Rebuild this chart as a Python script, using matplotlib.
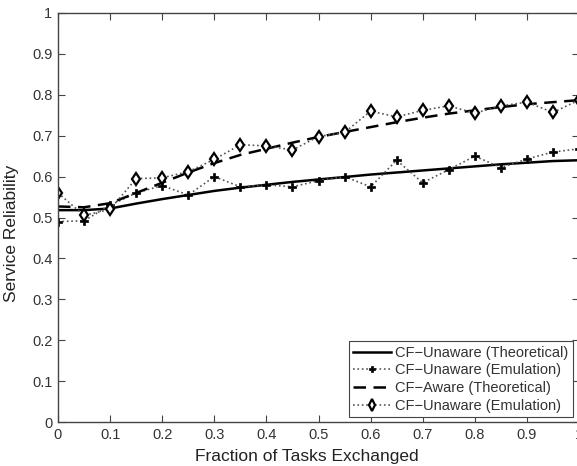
import numpy as np
import matplotlib
matplotlib.use('Agg')
import matplotlib.pyplot as plt

# fraction of tasks exchanged
frac = np.round(np.arange(0, 1.0001, 0.05), 2)

unaware_theory = [0.518, 0.518, 0.522, 0.534, 0.545, 0.555, 0.565, 0.573, 0.580, 0.587, 0.593,
                  0.599, 0.605, 0.610, 0.615, 0.620, 0.625, 0.630, 0.634, 0.638, 0.640]
unaware_emul = [0.490, 0.492, 0.530, 0.560, 0.578, 0.555, 0.600, 0.575, 0.580, 0.575, 0.590,
                0.600, 0.575, 0.640, 0.585, 0.617, 0.650, 0.622, 0.643, 0.660, 0.668]
aware_theory = [0.527, 0.525, 0.535, 0.560, 0.585, 0.610, 0.633, 0.653, 0.668, 0.683, 0.697,
                0.709, 0.721, 0.733, 0.744, 0.754, 0.762, 0.770, 0.777, 0.782, 0.787]
aware_emul = [0.560, 0.505, 0.520, 0.595, 0.597, 0.612, 0.642, 0.678, 0.675, 0.665, 0.698,
              0.708, 0.760, 0.746, 0.762, 0.773, 0.755, 0.773, 0.782, 0.757, 0.787]

labels = ['CF\u2212Unaware (Theoretical)', 'CF\u2212Unaware (Emulation)',
          'CF\u2212Aware (Theoretical)', 'CF\u2212Unaware (Emulation)']

plt.rcParams['font.family'] = ['Liberation Sans', 'DejaVu Sans']

W, H = 577, 466
fig = plt.figure(figsize=(W / 100, H / 100), dpi=100)
ax = fig.add_axes([58 / W, (H - 422) / H, 521 / W, 409 / H])

ax.plot(frac, unaware_theory, '-', color='black', lw=1.8, label=labels[0])
ax.plot(frac, unaware_emul, ':', color='#555555', lw=1.2, marker='P', ms=5.5,
        mfc='black', mec='black', mew=0.5, label=labels[1])
ax.plot(frac, aware_theory, '--', color='black', lw=1.8, dashes=(5, 3), label=labels[2])
ax.plot(frac, aware_emul, ':', color='#555555', lw=1.2, marker='d', ms=6.5,
        mfc='white', mec='black', mew=1.6, label=labels[3])

ax.set_xlim(0, 1)
ax.set_ylim(0, 1)
ax.set_xticks(np.arange(0, 1.01, 0.1))
ax.set_yticks(np.arange(0, 1.01, 0.1))
ax.set_xticklabels(['0', '0.1', '0.2', '0.3', '0.4', '0.5', '0.6', '0.7', '0.8', '0.9', '1'])
ax.set_yticklabels(['0', '0.1', '0.2', '0.3', '0.4', '0.5', '0.6', '0.7', '0.8', '0.9', '1'])
ax.tick_params(direction='in', top=True, right=True, length=5, width=0.8,
               color='#444444', labelsize=10.5, labelcolor='#333333', pad=4)
for s in ax.spines.values():
    s.set_color('#444444')
    s.set_linewidth(1.0)

ax.set_xlabel('Fraction of Tasks Exchanged', fontsize=12.5, color='#222222')
ax.set_ylabel('Service Reliability', fontsize=12.5, color='#222222')
ax.xaxis.set_label_coords((307 - 58) / 521, -0.065)
ax.yaxis.set_label_coords(-0.074, 0.46)

leg = ax.legend(loc='lower right', bbox_to_anchor=(573 / W, (H - 417) / H),
                bbox_transform=fig.transFigure, borderaxespad=0, fontsize=10.5,
                fancybox=False, framealpha=1, edgecolor='#444444',
                handlelength=2.6, handletextpad=0.3, labelspacing=0.25,
                borderpad=0.3, markerscale=0.9)
leg.get_frame().set_linewidth(0.8)
for t in leg.get_texts():
    t.set_color('#333333')

fig.savefig('out.png', dpi=100)
